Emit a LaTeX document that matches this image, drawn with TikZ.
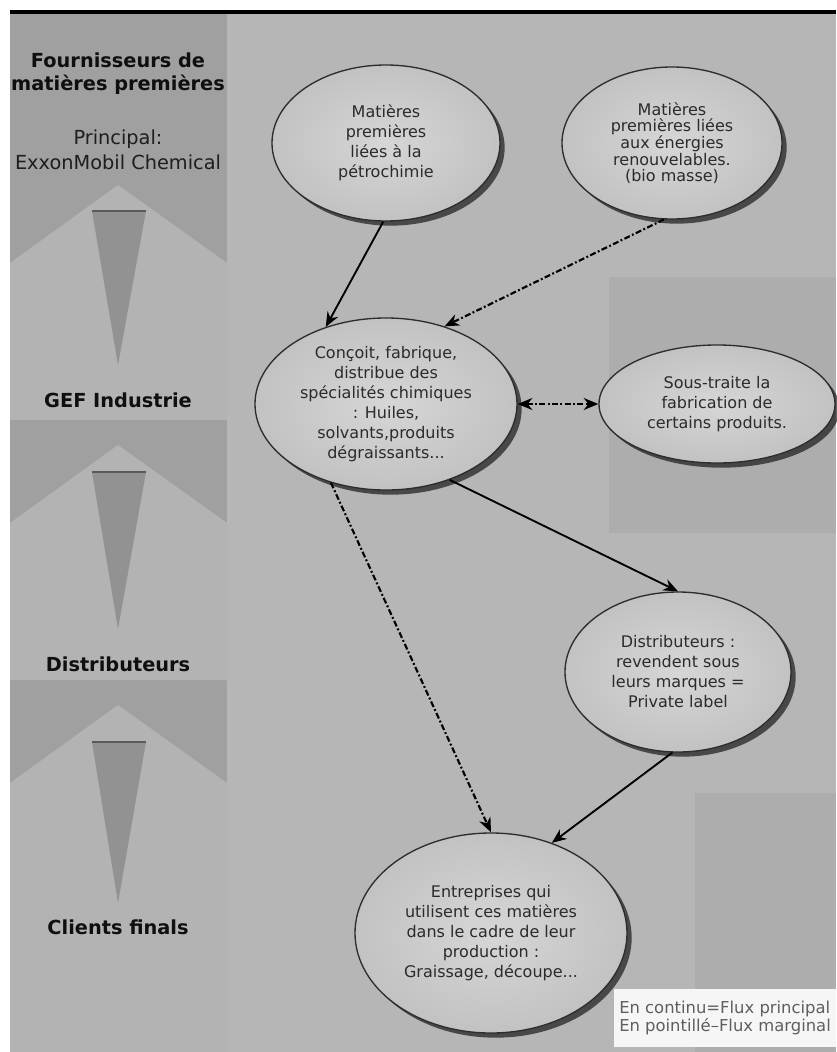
\documentclass[tikz,border=0pt]{standalone}
\usepackage{fontspec}
\setmainfont{DejaVu Sans}
\usetikzlibrary{shapes.geometric,arrows.meta,shadows}
\tikzset{every picture/.style={line width=0.75pt}}

\definecolor{fonddroit}{HTML}{B6B6B6}
\definecolor{blocdroit}{HTML}{ADADAD}
\definecolor{fondgauche}{HTML}{A0A0A0}
\definecolor{toit}{HTML}{B3B3B3}
\definecolor{cone}{HTML}{929292}
\definecolor{bullecentre}{HTML}{D6D6D6}
\definecolor{bullebord}{HTML}{C2C2C2}
\definecolor{textebulle}{HTML}{2B2B2B}

\tikzset{
  bulle/.style={ellipse, draw={rgb, 255:red, 45; green, 45; blue, 45 }, line width=1pt,
    inner color=bullecentre, outer color=bullebord, inner sep=0pt, align=center, text=textebulle,
    font=\fontsize{12}{15}\selectfont,
    drop shadow={shadow xshift=3.5pt, shadow yshift=-3.5pt, fill=black, opacity=0.6}},
  etape/.style={align=center, text={rgb, 255:red, 15; green, 15; blue, 15 },
    font=\fontsize{14.5}{17}\selectfont\bfseries},
  etapefin/.style={align=center, text={rgb, 255:red, 30; green, 30; blue, 30 },
    font=\fontsize{14.5}{19}\selectfont},
  flux/.style={line width=1.4pt, -{Stealth[length=11pt, width=9pt]}},
  fluxpoint/.style={flux, line width=1.6pt, dash pattern=on 4.5pt off 1.8pt on 1.4pt off 1.8pt},
  legende/.style={fill={rgb, 255:red, 246; green, 246; blue, 246 }, inner sep=0pt,
    minimum width=166pt, minimum height=43pt, align=left,
    text={rgb, 255:red, 95; green, 95; blue, 95 }, font=\fontsize{12.3}{13}\selectfont}
}

\begin{document}
\begin{tikzpicture}[x=0.75pt,y=0.75pt,yscale=-1,xscale=1]
\useasboundingbox (0,0) rectangle (836,1052);

%Shape: Rectangle [fond]
\fill[white] (0,0) rectangle (836,1052);
\fill[fonddroit] (10,12) rectangle (836,1052);
\fill[blocdroit] (609,277) rectangle (836,533);
\fill[blocdroit] (695,793) rectangle (836,1052);
%Shape: Rectangle [colonne des acteurs]
\fill[fondgauche] (10,12) rectangle (227,1052);
%Shape: Polygon [toits]
\foreach \a/\b in {185/420, 445/680, 705/1052} {
  \fill[toit] (118,\a) -- (227,\a+78) -- (227,\b) -- (10,\b) -- (10,\a+78) -- cycle;
}
%Shape: Triangle [cones]
\foreach \t/\p in {211/365, 472/629, 742/903} {
  \fill[cone] (92,\t) -- (146,\t) -- (118,\p) -- cycle;
  \draw[line width=1.2pt, color={rgb, 255:red, 90; green, 90; blue, 90 }] (92,\t) -- (146,\t);
}
%Straight Lines [trait du haut]
\draw[line width=2.5pt] (10,12) -- (836,12);

% Text Node
\node[etape] (fourn) at (118,74) {Fournisseurs de\\matières premières};
% Text Node
\node[etapefin] (princ) at (118,150) {Principal:\\ExxonMobil Chemical};
% Text Node
\node[etape] (industrie) at (118,400) {GEF Industrie};
% Text Node
\node[etape] (revendeurs) at (118,664) {Distributeurs};
% Text Node
\node[etape] (clients) at (118,927) {Clients finals};

%Shape: Ellipse
\node[bulle, minimum width=171pt, minimum height=117pt] (petro) at (386,143)
  {Matières\\premières\\liées à la\\pétrochimie};
%Shape: Ellipse
\node[bulle, minimum width=165pt, minimum height=114pt, font=\fontsize{12}{12.5}\selectfont] (bio) at (672,143)
  {Matières\\premières liées\\aux énergies\\renouvelables.\\(bio masse)};
%Shape: Ellipse
\node[bulle, minimum width=196.5pt, minimum height=129pt] (gef) at (386,404)
  {Conçoit, fabrique,\\distribue des\\spécialités chimiques\\: Huiles,\\solvants,produits\\dégraissants...};
%Shape: Ellipse
\node[bulle, minimum width=177pt, minimum height=88.5pt] (sous) at (717,404)
  {Sous-traite la\\fabrication de\\certains produits.};
%Shape: Ellipse
\node[bulle, minimum width=169.5pt, minimum height=120pt] (distr) at (678,672)
  {Distributeurs :\\revendent sous\\leurs marques =\\Private label};
%Shape: Ellipse
\node[bulle, minimum width=204pt, minimum height=150pt] (entr) at (491,933)
  {Entreprises qui\\utilisent ces matières\\dans le cadre de leur\\production :\\Graissage, découpe...};

%Straight Lines
\draw[flux] (petro.268) -- (gef.128);
\draw[fluxpoint] (bio.264) -- (gef.53);
\draw[fluxpoint, {Stealth[length=11pt, width=9pt]}-{Stealth[length=11pt, width=9pt]}] (gef.east) -- (sous.west);
\draw[flux] (gef.310) -- (distr.north);
\draw[fluxpoint] (gef.235) -- (entr.north);
\draw[flux] (distr.266) -- (entr.56);

% Text Node
\node[legende] (cle) at (725,1018) {En continu=Flux principal\\En pointillé–Flux marginal};
\end{tikzpicture}
\end{document}
